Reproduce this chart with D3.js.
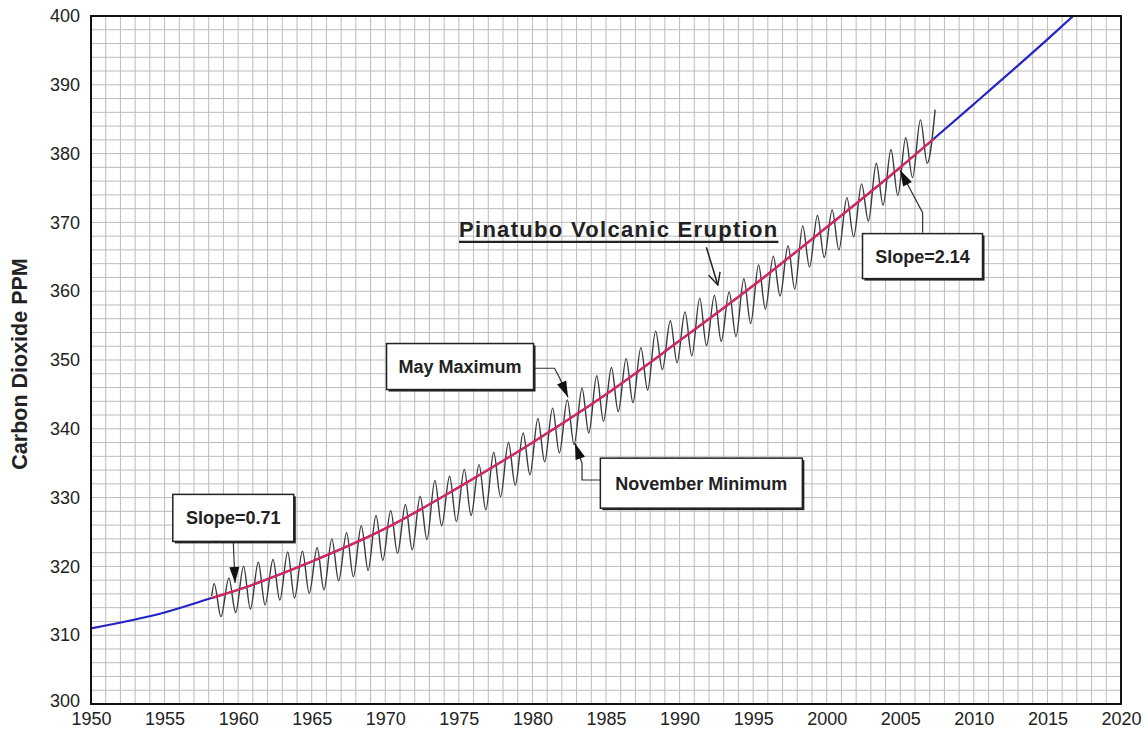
<!DOCTYPE html>
<html>
<head>
<meta charset="utf-8">
<script src="https://cdn.jsdelivr.net/npm/d3@7/dist/d3.min.js"></script>
<style>
  body { margin: 0; background: #fff; }
  text { font-family: Arial, 'Liberation Sans', sans-serif; }
</style>
</head>
<body>
<svg id="chart" width="1148" height="741"></svg>
<script>
// monthly record, May peaks and autumn troughs (ppm)
var maxYears = d3.range(1958, 2008);
var mayMax = [317.5, 318.3, 320.0, 320.6, 321.0, 322.1, 322.2, 322.7, 324.0, 324.9,
  325.9, 327.4, 328.1, 329.0, 330.2, 332.5, 333.1, 334.1, 334.8, 336.6,
  338.0, 339.4, 341.5, 343.0, 344.2, 345.9, 347.7, 348.9, 350.2, 351.8,
  354.2, 355.7, 357.0, 359.0, 359.4, 359.9, 361.8, 363.8, 365.1, 366.6,
  369.5, 371.0, 371.8, 373.6, 375.6, 378.6, 380.6, 382.3, 384.9, 386.4];
var minYears = d3.range(1958, 2007);
var novMin = [312.7, 313.3, 313.8, 314.4, 315.1, 315.4, 316.1, 316.6, 317.9, 318.5,
  319.4, 320.9, 321.9, 322.4, 323.9, 325.9, 326.5, 327.4, 328.2, 330.1,
  331.8, 333.3, 335.2, 336.5, 337.7, 339.4, 341.1, 342.5, 343.8, 345.6,
  348.6, 349.6, 350.6, 352.1, 352.7, 353.4, 355.3, 357.4, 359.3, 360.3,
  363.5, 364.9, 366.0, 367.9, 370.2, 372.5, 373.9, 376.5, 378.6];
var firstPoint = [1958.2, 315.7];

// fitted trend curve
var fitYears = [1950, 1955, 1958.2, 1960, 1965, 1970, 1975, 1980, 1985, 1990,
  1995, 2000, 2005, 2007.3, 2010, 2015, 2016.75];
var fitPPM = [311.0, 313.3, 315.4, 316.6, 320.7, 325.5, 331.5, 338.0, 345.0, 352.8,
  360.8, 369.3, 378.0, 382.2, 387.2, 396.6, 400.0];
var measuredRange = [1958.2, 2007.3];

var xTicks = d3.range(1950, 2021, 5);
var yTicks = d3.range(300, 401, 10);

var svg = d3.select('#chart');
var x = d3.scaleLinear().domain([1950, 2020]).range([91, 1121]);
var y = d3.scaleLinear().domain([300, 400]).range([704, 16]);

svg.append('defs').append('clipPath').attr('id', 'plot-clip')
  .append('rect')
  .attr('x', x(1950)).attr('y', y(400))
  .attr('width', x(2020) - x(1950)).attr('height', y(300) - y(400));

// graph paper grid, one line per year and per 2 ppm
var grid = svg.append('g').attr('class', 'grid');
grid.selectAll('line.gx').data(d3.range(1951, 2020, 1)).enter().append('line')
  .attr('x1', function (d) { return x(d); }).attr('x2', function (d) { return x(d); })
  .attr('y1', y(400)).attr('y2', y(300))
  .attr('stroke', '#bcbcbc').attr('stroke-width', 1);
grid.selectAll('line.gy').data(d3.range(302, 400, 2)).enter().append('line')
  .attr('y1', function (d) { return y(d); }).attr('y2', function (d) { return y(d); })
  .attr('x1', x(1950)).attr('x2', x(2020))
  .attr('stroke', '#bcbcbc').attr('stroke-width', 1);

// axes (labels only)
var xAxis = svg.append('g')
  .attr('transform', 'translate(0,' + y(300) + ')')
  .call(d3.axisBottom(x).tickValues(xTicks).tickFormat(d3.format('d')).tickSize(0).tickPadding(8));
xAxis.select('.domain').remove();
xAxis.selectAll('text').attr('font-size', '18px').attr('fill', '#222')
  .style('font-family', 'Arial, Liberation Sans, sans-serif');

var yAxis = svg.append('g')
  .attr('transform', 'translate(' + x(1950) + ',0)')
  .call(d3.axisLeft(y).tickValues(yTicks).tickSize(0).tickPadding(11));
yAxis.select('.domain').remove();
yAxis.selectAll('text').attr('font-size', '18px').attr('fill', '#222')
  .style('font-family', 'Arial, Liberation Sans, sans-serif');
yAxis.selectAll('.tick').filter(function (d) { return d === 300; })
  .select('text').attr('dy', '0.15em');

svg.append('text')
  .attr('transform', 'translate(27,' + ((y(300) + y(400)) / 2 + 4) + ') rotate(-90)')
  .attr('text-anchor', 'middle')
  .attr('font-size', '21.5px').attr('font-weight', 'bold').attr('fill', '#222')
  .text('Carbon Dioxide PPM');

// curves
var plot = svg.append('g').attr('clip-path', 'url(#plot-clip)');
var fitData = fitYears.map(function (t, i) { return [t, fitPPM[i]]; });
var line = d3.line()
  .x(function (d) { return x(d[0]); })
  .y(function (d) { return y(d[1]); })
  .curve(d3.curveMonotoneX);

plot.append('path')
  .datum(fitData)
  .attr('d', line)
  .attr('fill', 'none').attr('stroke', '#2424c8').attr('stroke-width', 2.2);

var monthly = [firstPoint];
maxYears.forEach(function (yr, i) {
  monthly.push([yr + 0.37, mayMax[i]]);
  if (i < novMin.length) monthly.push([minYears[i] + 0.83, novMin[i]]);
});

plot.append('path')
  .datum(monthly)
  .attr('d', line)
  .attr('fill', 'none').attr('stroke', '#3a3a3a').attr('stroke-width', 1.4);

plot.append('path')
  .datum(fitData.filter(function (d) { return d[0] >= measuredRange[0] && d[0] <= measuredRange[1]; }))
  .attr('d', line)
  .attr('fill', 'none').attr('stroke', '#e2245c').attr('stroke-width', 2.2);

// frame
svg.append('rect')
  .attr('x', x(1950)).attr('y', y(400))
  .attr('width', x(2020) - x(1950)).attr('height', y(300) - y(400))
  .attr('fill', 'none').attr('stroke', '#111').attr('stroke-width', 2);

// annotations
var notes = svg.append('g').attr('class', 'notes');

function arrowHead(tip, from, len, half) {
  var dx = tip[0] - from[0], dy = tip[1] - from[1];
  var d = Math.sqrt(dx * dx + dy * dy);
  var ux = dx / d, uy = dy / d;
  var bx = tip[0] - ux * len, by = tip[1] - uy * len;
  notes.append('path')
    .attr('d', 'M' + tip[0] + ',' + tip[1] +
      'L' + (bx - uy * half) + ',' + (by + ux * half) +
      'L' + (bx + uy * half) + ',' + (by - ux * half) + 'Z')
    .attr('fill', '#111');
}

function box(cx, cy, w, h, label) {
  var px = x(cx), py = y(cy);
  notes.append('rect')
    .attr('x', px - w / 2 + 2).attr('y', py - h / 2 + 2)
    .attr('width', w).attr('height', h).attr('fill', '#222');
  notes.append('rect')
    .attr('x', px - w / 2).attr('y', py - h / 2)
    .attr('width', w).attr('height', h)
    .attr('fill', '#fff').attr('stroke', '#222').attr('stroke-width', 1.5);
  notes.append('text')
    .attr('x', px).attr('y', py).attr('dy', '0.36em')
    .attr('text-anchor', 'middle')
    .attr('font-size', '18px').attr('font-weight', 'bold').attr('fill', '#222')
    .text(label);
}

function leader(points) {
  var pts = points.map(function (p) { return [x(p[0]), y(p[1])]; });
  notes.append('path')
    .attr('d', d3.line()(pts))
    .attr('fill', 'none').attr('stroke', '#333').attr('stroke-width', 1.2);
  arrowHead(pts[pts.length - 1], pts[pts.length - 2], 16, 5);
}

// Slope=0.71
leader([[1959.67, 323.5], [1959.79, 317.6]]);
box(1959.67, 327.05, 121, 47, 'Slope=0.71');

// May Maximum
leader([[1978.2, 348.8], [1981.5, 348.8], [1981.85, 347.4], [1982.42, 344.6]]);
box(1975.08, 349.05, 147, 46, 'May Maximum');

// November Minimum
leader([[1985.5, 332.56], [1983.37, 332.56], [1983.37, 335.0], [1982.89, 337.9]]);
box(1991.48, 332.1, 202, 50, 'November Minimum');

// Slope=2.14
leader([[2006.52, 368.5], [2006.52, 371.4], [2004.98, 377.6]]);
box(2006.51, 365.1, 120, 45, 'Slope=2.14');

// Pinatubo
var pin = notes.append('text')
  .attr('x', x(1975.01)).attr('y', y(367.9))
  .attr('font-size', '22px').attr('font-weight', 'bold').attr('fill', '#222')
  .attr('letter-spacing', '1.3px')
  .text('Pinatubo Volcanic Eruption');
var pinW = pin.node().getComputedTextLength();
notes.append('line')
  .attr('x1', x(1975.01)).attr('x2', x(1975.01) + pinW)
  .attr('y1', y(367.9) + 5).attr('y2', y(367.9) + 5)
  .attr('stroke', '#222').attr('stroke-width', 2.2);
var pinFrom = [x(1991.82), y(366.4)], pinTip = [x(1992.6), y(360.9)];
notes.append('line')
  .attr('x1', pinFrom[0]).attr('y1', pinFrom[1])
  .attr('x2', pinTip[0]).attr('y2', pinTip[1])
  .attr('stroke', '#222').attr('stroke-width', 1.5);
(function () {
  var dx = pinTip[0] - pinFrom[0], dy = pinTip[1] - pinFrom[1];
  var d = Math.sqrt(dx * dx + dy * dy), ux = dx / d, uy = dy / d;
  var bx = pinTip[0] - ux * 12, by = pinTip[1] - uy * 12;
  notes.append('path')
    .attr('d', 'M' + (bx - uy * 6) + ',' + (by + ux * 6) +
      'L' + pinTip[0] + ',' + pinTip[1] +
      'L' + (bx + uy * 6) + ',' + (by - ux * 6))
    .attr('fill', 'none').attr('stroke', '#222').attr('stroke-width', 1.5);
})();
</script>
</body>
</html>
